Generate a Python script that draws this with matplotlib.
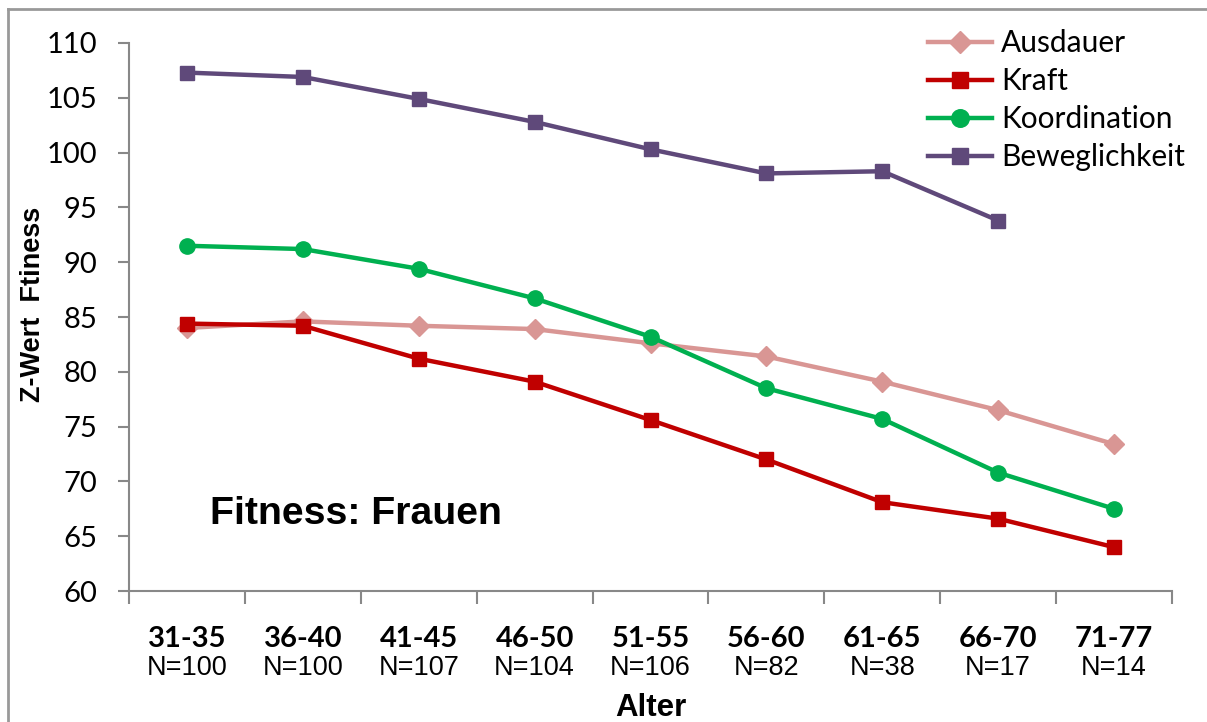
import matplotlib
matplotlib.use("Agg")
import matplotlib.pyplot as plt
from matplotlib.lines import Line2D

# Age groups and sample sizes
categories = ["31-35", "36-40", "41-45", "46-50", "51-55", "56-60", "61-65", "66-70", "71-77"]
n_labels = ["N=100", "N=100", "N=107", "N=104", "N=106", "N=82", "N=38", "N=17", "N=14"]

# Z-values per fitness dimension
ausdauer = [84.0, 84.6, 84.2, 83.9, 82.6, 81.4, 79.1, 76.5, 73.4]
kraft = [84.4, 84.2, 81.2, 79.1, 75.6, 72.0, 68.1, 66.6, 64.0]
koordination = [91.5, 91.2, 89.4, 86.7, 83.2, 78.5, 75.7, 70.8, 67.5]
beweglichkeit = [107.3, 106.9, 104.9, 102.8, 100.3, 98.1, 98.3, 93.8]

W, H = 1207, 722
fig = plt.figure(figsize=(W / 100, H / 100), dpi=100)
ax = fig.add_axes([129 / W, 1 - 591 / H, (1172 - 129) / W, (591 - 43) / H])

x_all = list(range(len(categories)))
series = [
    ("Ausdauer", ausdauer, "#D99694", "D", 10),
    ("Kraft", kraft, "#C00000", "s", 9.5),
    ("Koordination", koordination, "#00B050", "o", 11),
    ("Beweglichkeit", beweglichkeit, "#5F497A", "s", 9.5),
]
for name, vals, col, mk, ms in series:
    ax.plot(x_all[:len(vals)], vals, color=col, lw=3.2, marker=mk, ms=ms,
            solid_joinstyle="round", label=name)

ax.set_xlim(-0.5, len(categories) - 0.5)
ax.set_ylim(60, 110)
ax.set_yticks(range(60, 111, 5))
ax.tick_params(axis="y", direction="out", length=8, width=1.5, color="#888888",
               labelsize=21, pad=15)
for lab in ax.get_yticklabels():
    lab.set_fontfamily("Lato")

# category boundaries as ticks, labels at centers
ax.set_xticks([i - 0.5 for i in range(len(categories) + 1)], minor=True)
ax.tick_params(axis="x", which="minor", direction="out", length=9, width=1.5, color="#888888")
ax.set_xticks(x_all)
ax.set_xticklabels(categories, fontfamily="Lato", fontweight="bold", fontsize=21)
ax.tick_params(axis="x", which="major", length=0, pad=25.5)

for i, n in enumerate(n_labels):
    ax.text(i, -0.14, n, transform=ax.get_xaxis_transform(), ha="center", va="center",
            fontfamily="Liberation Sans", fontsize=19.5)

ax.text(4, -0.213, "Alter", transform=ax.get_xaxis_transform(),
        ha="center", va="center", fontfamily="Liberation Sans", fontweight="bold", fontsize=22.5)
fig.text(33 / W, 1 - 304 / H, "Z-Wert  Ftiness", rotation=90, ha="center", va="center",
         fontfamily="Liberation Sans", fontweight="bold", fontsize=19.5)

ax.text(0.2, 67.0, "Fitness: Frauen", fontfamily="Liberation Sans", fontweight="bold",
        fontsize=28.3, ha="left", va="center")

for s in ["top", "right"]:
    ax.spines[s].set_visible(False)
for s in ["left", "bottom"]:
    ax.spines[s].set_color("#888888")
    ax.spines[s].set_linewidth(1.5)

leg = ax.legend(loc="upper left", bbox_to_anchor=(928 / W, 1 - 29 / H),
                bbox_transform=fig.transFigure, frameon=False,
                prop={"family": "Lato", "size": 21.5}, handlelength=2.15,
                handletextpad=0.3, labelspacing=0.335, borderaxespad=0, borderpad=0,
                markerscale=1.15)

# outer frame lines
fig.add_artist(Line2D([8 / W, 8 / W], [0, 1 - 9 / H], transform=fig.transFigure,
                      color="#999999", lw=2))
fig.add_artist(Line2D([8 / W, 1], [1 - 9 / H, 1 - 9 / H], transform=fig.transFigure,
                      color="#999999", lw=2))

fig.savefig("out.png", dpi=100)
